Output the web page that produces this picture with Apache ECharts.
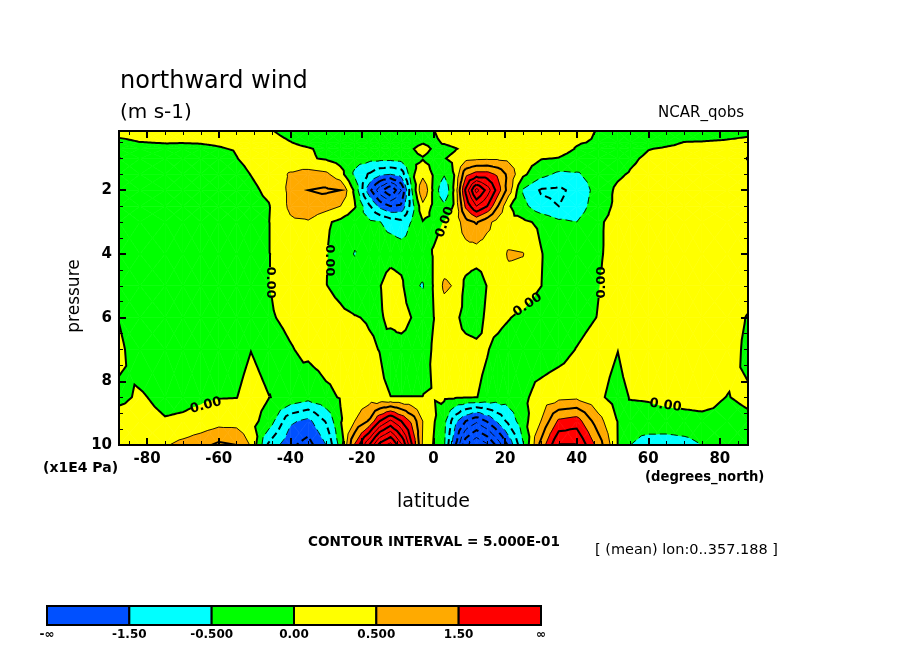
<!DOCTYPE html>
<html>
<head>
<meta charset="utf-8">
<title>northward wind</title>
<script src="https://cdn.jsdelivr.net/npm/echarts@6/dist/echarts.min.js"></script>
<style>
  html, body { margin: 0; background: #fff; }
  #main { width: 904px; height: 654px; }
</style>
</head>
<body>
<div id="main"></div>
<script>
// grid columns (degrees north) and rows (x1E4 Pa)
const lats = [-87.86,-82,-75,-70,-65,-60,-55,-51,-46,-40,-35,-30,-26,-22,-18,-15,-12,-9,-6,-3,0,3,6,9,12,15,18,21,25,30,35,40,46,51.5,55,60,65,70,75,82,87.86];
const levels = [0.14,0.5,0.7,1,1.5,2,2.5,3,4,5,6,7,8.5,9.25,10];

// northward wind, one row per pressure level
const v014 = [.15,.2,.2,.2,.2,.2,.2,.15,.03,-.1,-.15,-.2,-.2,-.2,-.2,-.2,-.2,-.2,-.2,-.15,-.02,.2,.2,.25,.3,.3,.3,.3,.25,.2,.2,.15,-.02,-.1,-.15,-.2,-.2,-.2,-.2,-.15,-.1];
const v050 = [-.1,-.01,.02,.01,.02,.05,.1,.15,.12,.01,-.1,-.2,-.2,-.2,-.2,-.2,-.2,-.2,-.15,-.03,-.1,.05,.15,.2,.25,.25,.25,.25,.25,.2,.15,.04,-.05,-.2,-.25,-.2,-.1,.01,.02,.05,.1];
const v070 = [-.2,-.15,-.12,-.1,-.08,-.03,.03,.1,.15,.1,.03,-.08,-.15,-.2,-.2,-.2,-.2,-.2,-.03,.15,-.05,-.15,-.03,.1,.25,.3,.3,.3,.3,.25,.2,-.03,-.2,-.3,-.25,-.02,.05,.1,.1,.1,.1];
const v100 = [.01,-.25,-.25,-.25,-.2,-.2,-.01,.12,.25,.2,.05,-.05,-.2,-.3,-.35,-.35,-.35,-.3,-.1,-.03,-.15,-.02,.1,.35,.4,.42,.42,.38,.2,.03,-.02,-.2,-.35,-.4,-.1,.1,.2,.2,.2,.15,-.01];
const v150 = [-.3,-.3,-.3,-.3,-.3,-.25,-.15,.01,.2,.55,.7,.6,.2,-.6,-1.05,-1.4,-1.5,-1.3,-.1,.35,-.05,-.45,.05,1.35,1.7,1.7,1.4,.85,.1,-.35,-.6,-.55,-.3,-.08,.05,.2,.2,.2,.2,.1,.1];
const v200 = [-.35,-.35,-.35,-.35,-.3,-.3,-.2,-.1,.1,.6,1,1.08,1,-.1,-1.8,-2.8,-3.5,-2.5,-.5,1,-.1,-.98,.15,2.1,3.7,2.8,1.75,.75,-.55,-1.05,-1.1,-.85,-.3,.1,.2,.25,.3,.3,.3,.25,.15];
const v250 = [-.35,-.35,-.35,-.35,-.35,-.3,-.25,-.15,-.03,.6,.85,.7,.5,.05,-.9,-1.65,-2,-1.9,-.7,.35,-.1,-.4,.1,1.6,2.5,2,1,.05,-.35,-.85,-1,-.8,-.2,.1,.2,.3,.3,.3,.3,.25,.15];
const v300 = [-.35,-.35,-.35,-.35,-.35,-.3,-.25,-.15,-.01,.42,.45,.08,-.12,-.35,-.4,-.48,-.7,-.85,-.45,-.03,-.1,.01,.2,.8,1.05,.65,.3,.1,.1,-.1,-.4,-.5,-.05,.12,.2,.3,.35,.35,.35,.3,.2];
const v400 = [-.3,-.3,-.3,-.3,-.3,-.25,-.2,-.1,-.01,.15,.12,.02,-.3,-.52,-.3,-.2,-.15,-.2,-.3,-.2,.03,.15,.2,.25,.25,.2,.25,.56,.52,.03,-.3,-.35,-.05,.15,.25,.3,.35,.35,.35,.3,.2];
const v500 = [-.35,-.35,-.35,-.35,-.3,-.3,-.25,-.15,-.01,.2,.12,.01,-.1,-.25,-.2,-.02,.2,.1,-.4,-.54,.03,.6,.45,-.12,-.3,.02,.25,.3,.3,.01,-.25,-.3,-.02,.2,.3,.35,.4,.4,.4,.3,.2];
const v600 = [-.02,-.35,-.35,-.35,-.35,-.3,-.25,-.15,-.05,.1,.2,.15,.08,.02,-.03,-.05,.1,.25,-.02,-.2,-.01,.2,.1,-.15,-.2,.1,.1,.02,-.1,-.3,-.3,-.2,.02,.2,.3,.35,.4,.4,.4,.2,-.03];
const v700 = [.1,-.25,-.35,-.35,-.35,-.3,-.2,-.01,-.2,-.03,.1,.2,.2,.15,.05,-.01,-.2,-.25,-.25,-.2,.05,.15,.15,.15,.1,.02,-.1,-.2,-.25,-.3,-.2,.02,.25,.01,.3,.35,.4,.45,.45,.2,-.1];
const v850 = [-.08,.05,-.12,-.1,-.07,-.02,-.01,.2,.01,-.1,-.3,-.1,.03,.2,.25,.1,.005,.005,.005,.005,.02,.07,.05,.02,.01,-.1,-.2,-.25,-.1,.2,.35,.4,.1,-.2,.03,.05,.1,.12,.15,-.01,.05];
const v925 = [.15,.15,.03,.06,.15,.3,.3,.15,-.2,-1.4,-1.65,-.95,-.05,.5,1.05,2,2.6,2,1.35,.5,.05,-.35,-1.35,-2,-2.4,-1.95,-1.4,-.85,-.2,.5,1.6,1.75,.7,-.02,-.25,-.2,-.15,-.12,-.1,-.1,-.05];
const v1000 = [.2,.25,.45,.65,.85,1.1,1,.45,-1.1,-1.9,-2.2,-1.5,-.3,1.55,3,4.2,4.7,3.6,2,.45,-.02,-.45,-1.9,-3.4,-4,-3.6,-2.8,-1.9,-.55,1.15,2.55,2.55,1.3,-.01,-.5,-.75,-.8,-.72,-.5,-.25,-.15];
const wind = [v014,v050,v070,v100,v150,v200,v250,v300,v400,v500,v600,v700,v850,v925,v1000];

// shaded bands and their colours
const bandEdges = [-Infinity,-1.5,-0.5,0,0.5,1.5,Infinity];
const bandColors = ['#0050ff','#00ffff','#00ff00','#ffff00','#ffaa00','#ff0000'];
const bandLabels = ['-∞','-1.50','-0.500','0.00','0.500','1.50','∞'];

// contour lines every 0.5
const contourLevels = [-4.5,-4,-3.5,-3,-2.5,-2,-1.5,-1,-0.5,0,0.5,1,1.5,2,2.5,3,3.5,4,4.5];

// inline labels on the zero line: lat, pressure, angle in degrees
const zeroLabels = [[-45.6,4.9,-90],[-29.2,4.2,-90],[26.3,5.6,35],[46.9,4.9,90],[-63.6,8.76,15],[64.8,8.76,-8],[3.2,3,70]];

const latTicks = [-80,-60,-40,-20,0,20,40,60,80];
const latMinor = [-85,-75,-70,-65,-55,-50,-45,-35,-30,-25,-15,-10,-5,5,10,15,25,30,35,45,50,55,65,70,75,85];
const presTicks = [2,4,6,8,10];
const presMinor = [0.5,1,1.5,2.5,3,3.5,4.5,5,5.5,6.5,7,7.5,8.5,9,9.5];

const FONT = '"DejaVu Sans"';
const EPS = 1e-6;

// every grid cell cut in four triangles around its centre
function makeTriangles() {
  const tris = [];
  for (let j = 0; j < levels.length - 1; j++) {
    for (let i = 0; i < lats.length - 1; i++) {
      const a = [lats[i], levels[j], wind[j][i]];
      const b = [lats[i + 1], levels[j], wind[j][i + 1]];
      const c = [lats[i + 1], levels[j + 1], wind[j + 1][i + 1]];
      const d = [lats[i], levels[j + 1], wind[j + 1][i]];
      const m = [(a[0] + b[0]) / 2, (a[1] + d[1]) / 2, (a[2] + b[2] + c[2] + d[2]) / 4];
      tris.push([a, b, m], [b, c, m], [c, d, m], [d, a, m]);
    }
  }
  return tris;
}
const triangles = makeTriangles();

function cross(p, q, level) {
  const t = (level - p[2]) / (q[2] - p[2]);
  return [p[0] + t * (q[0] - p[0]), p[1] + t * (q[1] - p[1]), level];
}

// keep the part of a polygon on one side of a level
function clip(poly, level, above) {
  const out = [];
  for (let i = 0; i < poly.length; i++) {
    const p = poly[i];
    const q = poly[(i + 1) % poly.length];
    const pIn = above ? p[2] >= level : p[2] <= level;
    const qIn = above ? q[2] >= level : q[2] <= level;
    if (pIn) out.push(p);
    if (pIn !== qIn) out.push(cross(p, q, level));
  }
  return out;
}

function renderBand(params, api) {
  const k = api.value(0);
  const lo = bandEdges[k];
  const hi = bandEdges[k + 1];
  const children = [];
  triangles.forEach(function (tri) {
    let poly = tri;
    if (lo > -Infinity) poly = clip(poly, lo, true);
    if (poly.length && hi < Infinity) poly = clip(poly, hi, false);
    if (poly.length < 3) return;
    children.push({
      type: 'polygon',
      silent: true,
      shape: { points: poly.map(function (p) { return api.coord([p[0], p[1]]); }) },
      style: { fill: bandColors[k], stroke: bandColors[k], lineWidth: 0.6 }
    });
  });
  return { type: 'group', children: children };
}

// join the little segments so that dashes run along the whole line
function chain(segments) {
  const key = function (p) { return p[0].toFixed(2) + ',' + p[1].toFixed(2); };
  const ends = {};
  segments.forEach(function (s) {
    [key(s[0]), key(s[1])].forEach(function (k) { (ends[k] = ends[k] || []).push(s); });
  });
  const lines = [];
  segments.forEach(function (s) {
    if (s.used) return;
    s.used = true;
    const line = [s[0], s[1]];
    let grow = true;
    while (grow) {
      grow = false;
      const next = (ends[key(line[line.length - 1])] || []).find(function (o) { return !o.used; });
      if (next) {
        next.used = true;
        line.push(key(next[0]) === key(line[line.length - 1]) ? next[1] : next[0]);
        grow = true;
      }
    }
    grow = true;
    while (grow) {
      grow = false;
      const prev = (ends[key(line[0])] || []).find(function (o) { return !o.used; });
      if (prev) {
        prev.used = true;
        line.unshift(key(prev[0]) === key(line[0]) ? prev[1] : prev[0]);
        grow = true;
      }
    }
    lines.push(line);
  });
  return lines;
}

function renderContour(params, api) {
  const level = contourLevels[api.value(0)];
  const holes = level === 0 ? zeroLabels.map(function (l) { return api.coord([l[0], l[1]]); }) : [];
  const inHole = function (x, y) {
    return holes.some(function (h) { return Math.hypot(x - h[0], y - h[1]) < 15; });
  };
  const segments = [];
  triangles.forEach(function (tri) {
    const pts = [];
    for (let i = 0; i < 3; i++) {
      const p = tri[i];
      const q = tri[(i + 1) % 3];
      if ((p[2] < level + EPS) !== (q[2] < level + EPS)) pts.push(api.coord(cross(p, q, level)));
    }
    if (pts.length !== 2) return;
    if (!holes.length) {
      segments.push(pts);
      return;
    }
    // the zero line stops where its label sits, so walk it in small steps
    const steps = Math.ceil(Math.hypot(pts[1][0] - pts[0][0], pts[1][1] - pts[0][1]) / 2);
    for (let s = 0; s < steps; s++) {
      const a = [pts[0][0] + (pts[1][0] - pts[0][0]) * s / steps, pts[0][1] + (pts[1][1] - pts[0][1]) * s / steps];
      const b = [pts[0][0] + (pts[1][0] - pts[0][0]) * (s + 1) / steps, pts[0][1] + (pts[1][1] - pts[0][1]) * (s + 1) / steps];
      if (!inHole((a[0] + b[0]) / 2, (a[1] + b[1]) / 2)) segments.push([a, b]);
    }
  });
  const thick = Number.isInteger(level);
  const children = chain(segments).map(function (line) {
    return {
      type: 'polyline',
      silent: true,
      shape: { points: line },
      style: {
        fill: null,
        stroke: '#000',
        lineWidth: thick ? 2 : 0.9,
        lineDash: level < 0 ? [7, 4] : null
      }
    };
  });
  return { type: 'group', children: children };
}

function renderZeroLabel(params, api) {
  const pos = api.coord([api.value(0), api.value(1)]);
  return {
    type: 'text',
    silent: true,
    x: pos[0],
    y: pos[1],
    rotation: api.value(2) * Math.PI / 180,
    style: { text: '0.00', fill: '#000', font: 'bold 13px ' + FONT, align: 'center', verticalAlign: 'middle' }
  };
}

function renderLegendCell(params, api) {
  const k = api.value(0);
  const p0 = api.coord([k, 1]);
  const p1 = api.coord([k + 1, 0]);
  return {
    type: 'rect',
    silent: true,
    shape: { x: p0[0], y: p0[1], width: p1[0] - p0[0], height: p1[1] - p0[1] },
    style: { fill: bandColors[k], stroke: '#000', lineWidth: 2 }
  };
}

const tickFont = { fontFamily: FONT, fontWeight: 'bold', fontSize: 15, color: '#000' };

// four axes per direction: long and short ticks on both sides of the frame
function latAxis(position, ticks, len, withLabels) {
  return {
    type: 'value', gridIndex: 0, position: position, min: -87.86, max: 87.86, z: 10,
    splitLine: { show: false },
    axisLine: { show: true, onZero: false, lineStyle: { color: '#000', width: 2 } },
    axisTick: { show: true, inside: true, length: len, customValues: ticks, lineStyle: { color: '#000', width: len > 4 ? 2 : 1 } },
    axisLabel: withLabels ? Object.assign({ show: true, margin: 7, customValues: ticks }, tickFont) : { show: false },
    name: withLabels ? 'latitude' : '',
    nameLocation: 'middle',
    nameGap: 48,
    nameTextStyle: { fontFamily: FONT, fontSize: 19, color: '#000' }
  };
}

function presAxis(position, ticks, len, withLabels) {
  return {
    type: 'value', gridIndex: 0, position: position, inverse: true, min: 0.14, max: 10, z: 10,
    splitLine: { show: false },
    axisLine: { show: true, onZero: false, lineStyle: { color: '#000', width: 2 } },
    axisTick: { show: true, inside: true, length: len, customValues: ticks, lineStyle: { color: '#000', width: len > 4 ? 2 : 1 } },
    axisLabel: withLabels ? Object.assign({ show: true, margin: 7, customValues: ticks }, tickFont) : { show: false }
  };
}

function note(text, x, y, size, weight, align, rotation) {
  return {
    type: 'text', x: x, y: y, silent: true, rotation: rotation || 0,
    style: { text: text, fill: '#000', font: (weight || 'normal') + ' ' + size + 'px ' + FONT, align: align || 'left', verticalAlign: 'middle' }
  };
}

const chart = echarts.init(document.getElementById('main'));
chart.setOption({
  animation: false,
  backgroundColor: '#fff',
  grid: [
    { left: 119, top: 131, width: 629, height: 314 },
    { left: 47, top: 606, width: 494, height: 19 }
  ],
  xAxis: [
    latAxis('bottom', latTicks, 7, true),
    latAxis('bottom', latMinor, 4, false),
    latAxis('top', latTicks, 7, false),
    latAxis('top', latMinor, 4, false),
    {
      type: 'value', gridIndex: 1, min: 0, max: 6, position: 'bottom', z: 10,
      splitLine: { show: false },
      axisLine: { show: false },
      axisTick: { show: false },
      axisLabel: {
        show: true, margin: 4, customValues: [0, 1, 2, 3, 4, 5, 6],
        fontFamily: FONT, fontWeight: 'bold', fontSize: 12, color: '#000',
        formatter: function (v) { return bandLabels[v]; }
      }
    }
  ],
  yAxis: [
    presAxis('left', presTicks, 7, true),
    presAxis('left', presMinor, 4, false),
    presAxis('right', presTicks, 7, false),
    presAxis('right', presMinor, 4, false),
    { type: 'value', gridIndex: 1, min: 0, max: 1, show: false }
  ],
  series: [
    {
      type: 'custom', xAxisIndex: 0, yAxisIndex: 0, z: 2, clip: true, silent: true,
      data: bandColors.map(function (c, k) { return [k]; }),
      renderItem: renderBand
    },
    {
      type: 'custom', xAxisIndex: 0, yAxisIndex: 0, z: 3, clip: true, silent: true,
      data: contourLevels.map(function (c, k) { return [k]; }),
      renderItem: renderContour
    },
    {
      type: 'custom', xAxisIndex: 0, yAxisIndex: 0, z: 4, clip: true, silent: true,
      data: zeroLabels,
      renderItem: renderZeroLabel
    },
    {
      type: 'custom', xAxisIndex: 4, yAxisIndex: 4, z: 2, silent: true,
      data: bandColors.map(function (c, k) { return [k]; }),
      renderItem: renderLegendCell
    }
  ],
  graphic: [
    note('northward wind', 120, 82, 24),
    note('(m s-1)', 120, 113, 20),
    note('NCAR_qobs', 744, 113, 15, 'normal', 'right'),
    note('pressure', 75, 296, 17, 'normal', 'center', Math.PI / 2),
    note('(x1E4 Pa)', 43, 468, 14, 'bold'),
    note('(degrees_north)', 645, 478, 13.2, 'bold'),
    note('CONTOUR INTERVAL = 5.000E-01', 308, 542, 13.6, 'bold'),
    note('[ (mean) lon:0..357.188 ]', 595, 550, 14.5)
  ]
});
</script>
</body>
</html>
